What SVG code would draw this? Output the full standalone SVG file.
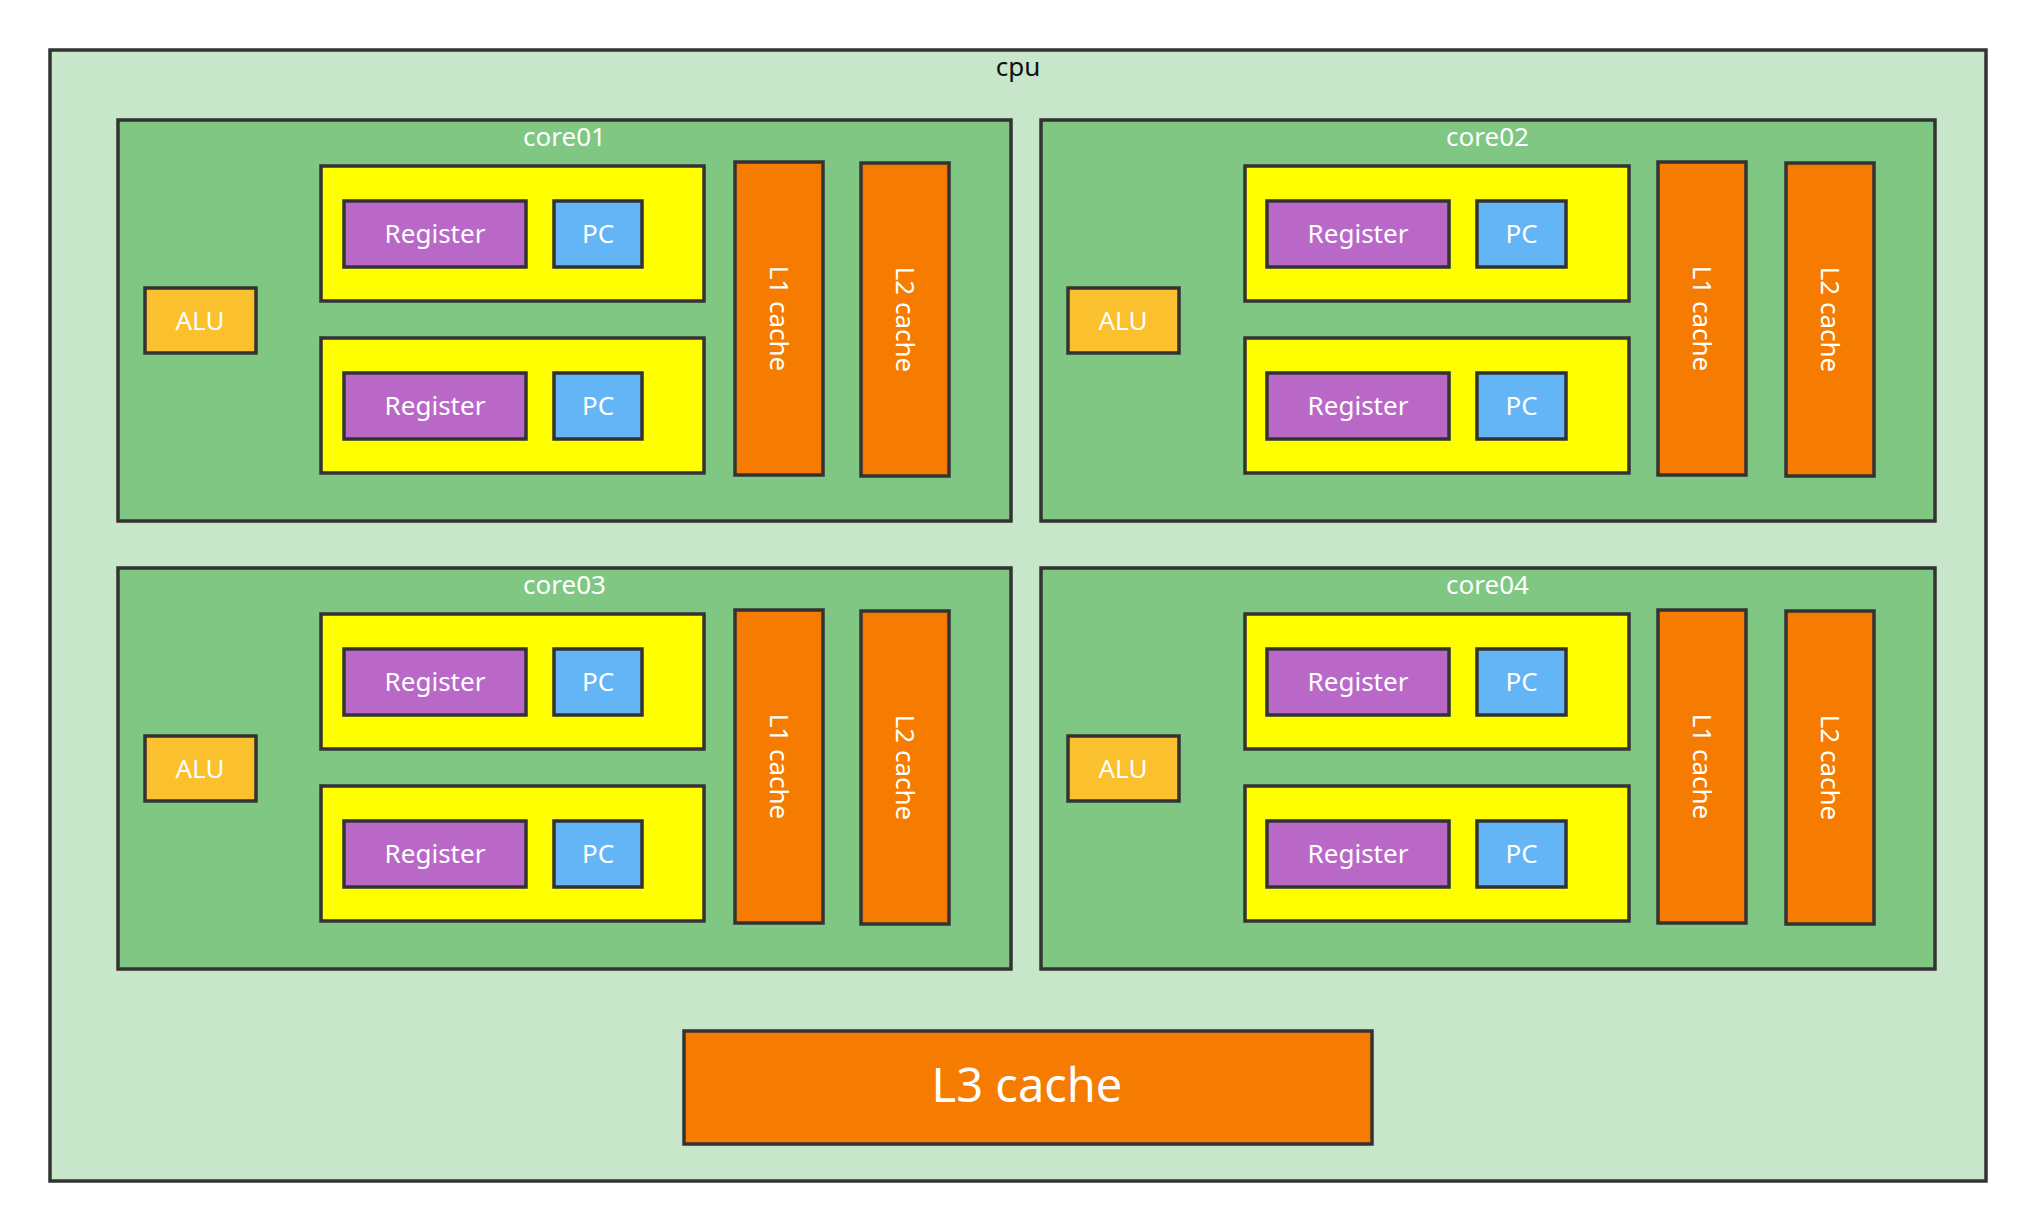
<svg xmlns="http://www.w3.org/2000/svg" width="2036" height="1232" viewBox="0 0 2036 1232">
<style>
rect{stroke:#333333;stroke-width:3.5}
.cpu{fill:#C8E6C9}
.core{fill:#81C784}
.thr{fill:#FFFF00}
.reg{fill:#BA68C8}
.pc{fill:#64B5F6}
.cache{fill:#F57C00}
.alu{fill:#FBC02D}
text{font-family:"Noto Sans","Open Sans","DejaVu Sans",sans-serif;font-size:26px;fill:#FFFFFF;text-anchor:middle}
.dark{fill:#111111}
.big{font-size:47px}
</style>
<rect width="2036" height="1232" fill="#FFFFFF" style="stroke:none"/>
<g id="cpu">
<rect class="cpu" x="50" y="50" width="1936" height="1131"/>
<text class="dark" x="1018" y="76">cpu</text>
</g>

<g id="core01">
<rect class="core" x="118" y="120" width="893" height="401"/>
<text x="564.5" y="146">core01</text>
<g id="core01-alu"><rect class="alu" x="145" y="288" width="111" height="65"/><text x="200" y="330">ALU</text></g>
<g id="core01-thread1"><rect class="thr" x="321" y="166" width="383" height="135"/></g>
<g id="core01-reg1"><rect class="reg" x="344" y="201" width="182" height="66"/><text x="435" y="243">Register</text></g>
<g id="core01-pc1"><rect class="pc" x="554" y="201" width="88" height="66"/><text x="598" y="243">PC</text></g>
<g id="core01-thread2"><rect class="thr" x="321" y="338" width="383" height="135"/></g>
<g id="core01-reg2"><rect class="reg" x="344" y="373" width="182" height="66"/><text x="435" y="415">Register</text></g>
<g id="core01-pc2"><rect class="pc" x="554" y="373" width="88" height="66"/><text x="598" y="415">PC</text></g>
<g id="core01-l1"><rect class="cache" x="735" y="162" width="88" height="313"/><text transform="translate(779,318.5) rotate(90)" x="0" y="9">L1 cache</text></g>
<g id="core01-l2"><rect class="cache" x="861" y="163" width="88" height="313"/><text transform="translate(905,319.5) rotate(90)" x="0" y="9">L2 cache</text></g>
</g>

<g id="core02">
<rect class="core" x="1041" y="120" width="894" height="401"/>
<text x="1487.5" y="146">core02</text>
<g id="core02-alu"><rect class="alu" x="1068" y="288" width="111" height="65"/><text x="1123" y="330">ALU</text></g>
<g id="core02-thread1"><rect class="thr" x="1245" y="166" width="384" height="135"/></g>
<g id="core02-reg1"><rect class="reg" x="1267" y="201" width="182" height="66"/><text x="1358" y="243">Register</text></g>
<g id="core02-pc1"><rect class="pc" x="1477" y="201" width="89" height="66"/><text x="1521.5" y="243">PC</text></g>
<g id="core02-thread2"><rect class="thr" x="1245" y="338" width="384" height="135"/></g>
<g id="core02-reg2"><rect class="reg" x="1267" y="373" width="182" height="66"/><text x="1358" y="415">Register</text></g>
<g id="core02-pc2"><rect class="pc" x="1477" y="373" width="89" height="66"/><text x="1521.5" y="415">PC</text></g>
<g id="core02-l1"><rect class="cache" x="1658" y="162" width="88" height="313"/><text transform="translate(1702,318.5) rotate(90)" x="0" y="9">L1 cache</text></g>
<g id="core02-l2"><rect class="cache" x="1786" y="163" width="88" height="313"/><text transform="translate(1830,319.5) rotate(90)" x="0" y="9">L2 cache</text></g>
</g>

<g id="core03">
<rect class="core" x="118" y="568" width="893" height="401"/>
<text x="564.5" y="594">core03</text>
<g id="core03-alu"><rect class="alu" x="145" y="736" width="111" height="65"/><text x="200" y="778">ALU</text></g>
<g id="core03-thread1"><rect class="thr" x="321" y="614" width="383" height="135"/></g>
<g id="core03-reg1"><rect class="reg" x="344" y="649" width="182" height="66"/><text x="435" y="691">Register</text></g>
<g id="core03-pc1"><rect class="pc" x="554" y="649" width="88" height="66"/><text x="598" y="691">PC</text></g>
<g id="core03-thread2"><rect class="thr" x="321" y="786" width="383" height="135"/></g>
<g id="core03-reg2"><rect class="reg" x="344" y="821" width="182" height="66"/><text x="435" y="863">Register</text></g>
<g id="core03-pc2"><rect class="pc" x="554" y="821" width="88" height="66"/><text x="598" y="863">PC</text></g>
<g id="core03-l1"><rect class="cache" x="735" y="610" width="88" height="313"/><text transform="translate(779,766.5) rotate(90)" x="0" y="9">L1 cache</text></g>
<g id="core03-l2"><rect class="cache" x="861" y="611" width="88" height="313"/><text transform="translate(905,767.5) rotate(90)" x="0" y="9">L2 cache</text></g>
</g>

<g id="core04">
<rect class="core" x="1041" y="568" width="894" height="401"/>
<text x="1487.5" y="594">core04</text>
<g id="core04-alu"><rect class="alu" x="1068" y="736" width="111" height="65"/><text x="1123" y="778">ALU</text></g>
<g id="core04-thread1"><rect class="thr" x="1245" y="614" width="384" height="135"/></g>
<g id="core04-reg1"><rect class="reg" x="1267" y="649" width="182" height="66"/><text x="1358" y="691">Register</text></g>
<g id="core04-pc1"><rect class="pc" x="1477" y="649" width="89" height="66"/><text x="1521.5" y="691">PC</text></g>
<g id="core04-thread2"><rect class="thr" x="1245" y="786" width="384" height="135"/></g>
<g id="core04-reg2"><rect class="reg" x="1267" y="821" width="182" height="66"/><text x="1358" y="863">Register</text></g>
<g id="core04-pc2"><rect class="pc" x="1477" y="821" width="89" height="66"/><text x="1521.5" y="863">PC</text></g>
<g id="core04-l1"><rect class="cache" x="1658" y="610" width="88" height="313"/><text transform="translate(1702,766.5) rotate(90)" x="0" y="9">L1 cache</text></g>
<g id="core04-l2"><rect class="cache" x="1786" y="611" width="88" height="313"/><text transform="translate(1830,767.5) rotate(90)" x="0" y="9">L2 cache</text></g>
</g>

<g id="l3">
<rect class="cache" x="684" y="1031" width="688" height="113"/>
<text class="big" x="1027" y="1102">L3 cache</text>
</g>
<g id="connectors"/>
</svg>
